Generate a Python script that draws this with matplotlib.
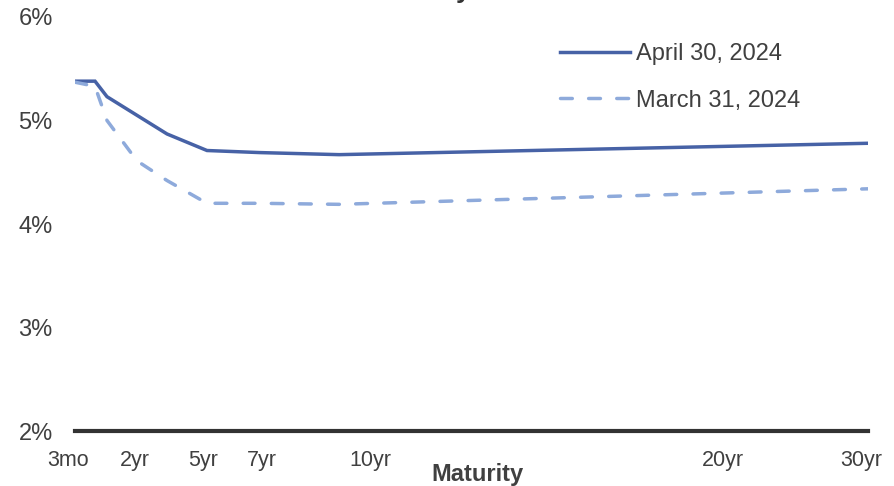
import numpy as np
import matplotlib
matplotlib.use("Agg")
import matplotlib.pyplot as plt

plt.rcParams['font.family'] = ['Liberation Sans', 'DejaVu Sans']

# maturities in years
maturity = [0.25, 0.5, 1, 2, 3, 5, 7, 10, 30]
april_30 = [5.38, 5.38, 5.23, 5.05, 4.87, 4.71, 4.69, 4.67, 4.78]
march_31 = [5.37, 5.33, 5.00, 4.61, 4.42, 4.20, 4.20, 4.19, 4.34]

tick_labels = ['3mo', '2yr', '5yr', '7yr', '10yr', '20yr', '30yr']
# where the labels sit along the axis (axes fraction)
tick_x = [-0.009, 0.0757, 0.161, 0.236, 0.372, 0.817, 0.992]

# the axis is stretched at the short end
knot_yr = [0.25, 0.5, 1, 2, 3, 5, 30]
knot_u = [0, 20, 32, 62, 92, 132, 793]


def fwd(x):
    return np.interp(x, knot_yr, knot_u)


def inv(u):
    return np.interp(u, knot_u, knot_yr)


text_col = '#404040'
dark_blue = '#4762A6'
light_blue = '#8EAADB'

fig = plt.figure(figsize=(8.95, 4.86), dpi=100)
ax = fig.add_axes([75 / 895, 1 - 431 / 486, 793 / 895, 414 / 486])
ax.set_xscale('function', functions=(fwd, inv))

ax.plot(maturity, april_30, color=dark_blue, lw=2.5, label='April 30, 2024',
        solid_joinstyle='miter')
ax.plot(maturity, march_31, color=light_blue, lw=2.5, ls=(0, (3.4, 4.7)),
        label='March 31, 2024', dash_capstyle='round')

ax.set_xlim(0.25, 30)
ax.set_ylim(2, 6)
ax.set_yticks([2, 3, 4, 5, 6])
ax.set_yticklabels(['2%', '3%', '4%', '5%', '6%'])
ax.tick_params(axis='y', length=0, pad=16, labelsize=17, labelcolor=text_col)
ax.set_xticks([])

for s in ['top', 'right', 'left']:
    ax.spines[s].set_visible(False)
ax.spines['bottom'].set_linewidth(3)
ax.spines['bottom'].set_color('#333333')

for lab, x in zip(tick_labels, tick_x):
    ax.text(x, -0.0845, lab, transform=ax.transAxes, ha='center', va='baseline',
            fontsize=15.5, color=text_col)

fig.text(477 / 895, 1 - 481 / 486, 'Maturity', ha='center', va='baseline',
         fontsize=17, fontweight='bold', color=text_col)

# title sits mostly above the top edge, as in the original
fig.text(462 / 895, 1 + 2 / 486, 'U.S. Treasury Yield Curve', ha='center',
         va='baseline', fontsize=19, fontweight='bold', color='#333333')

leg = ax.legend(loc='upper left', bbox_to_anchor=(0.612, 0.937), frameon=False,
                fontsize=17, handlelength=2.97, handletextpad=0.25,
                labelspacing=1.04, borderaxespad=0, borderpad=0)
for t in leg.get_texts():
    t.set_color(text_col)

fig.savefig('out.png', dpi=100)
